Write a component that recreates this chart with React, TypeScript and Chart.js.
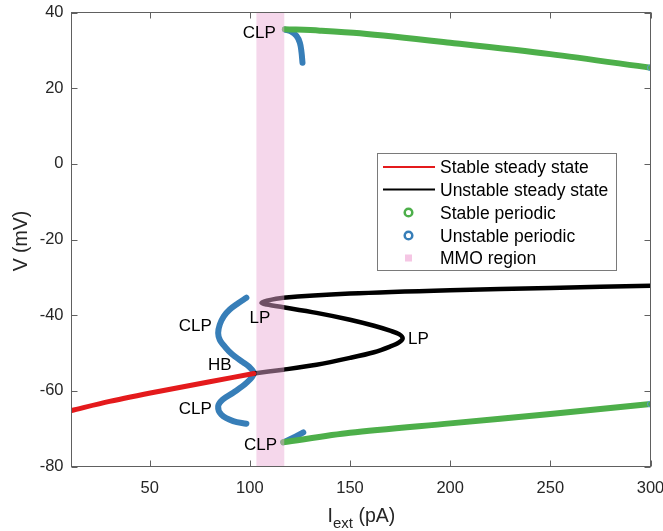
import React, { useEffect, useRef } from 'react';
import { Chart, registerables } from 'chart.js';

Chart.register(...registerables);

// ---- axes ----
const xTicks = [50, 100, 150, 200, 250, 300];
const yTicks = [-80, -60, -40, -20, 0, 20, 40];
const xMin = 11;
const xMax = 300;
const yMin = -80;
const yMax = 40;

// ---- data (I_ext in pA, V in mV) ----
const stableSteadyI = [11, 30, 55, 80, 102];
const stableSteadyV = [-65.2, -62.8, -60.1, -57.6, -55.4];

const unstableSteadyI = [102, 116.7, 133.3, 150, 162, 170, 174.5, 176.3, 174.5, 170, 162, 150, 133.3, 116.7, 108.5, 105.8, 108.5, 116.7, 150, 200, 250, 300];
const unstableSteadyV = [-55.4, -54.4, -53.1, -51.3, -49.8, -48.3, -47.2, -46.1, -45.0, -44.1, -42.8, -41.2, -39.4, -37.9, -37.2, -36.8, -36.2, -35.4, -34.3, -33.4, -32.8, -32.2];

const stablePeriodicTopI = [117.5, 135, 155, 200, 250, 300];
const stablePeriodicTopV = [35.6, 35.2, 34.5, 32.0, 29.0, 25.4];
const stablePeriodicBottomI = [116.7, 150, 200, 250, 300];
const stablePeriodicBottomV = [-73.6, -71.1, -68.6, -66.1, -63.5];

const unstablePeriodicLowI = [98.3, 94, 90, 87, 85, 84.2, 85, 86.7, 89.5, 92.5, 96.5, 99.6, 102, 98.3, 91.7, 86.5, 84.2, 85.8, 91.7, 98.3];
const unstablePeriodicLowV = [-35.4, -36.9, -38.5, -40.3, -42.5, -44.7, -46.5, -47.8, -49.5, -50.9, -52.4, -53.6, -55.4, -57.9, -60.5, -62.3, -64.1, -66.3, -68.0, -68.7];
const unstablePeriodicTopI = [117.5, 120.5, 123.3, 125, 125.8, 126.3];
const unstablePeriodicTopV = [35.5, 35.0, 33.8, 32.0, 29.5, 26.7];
const unstablePeriodicBottomI = [116.7, 121.7, 126.7];
const unstablePeriodicBottomV = [-73.6, -72.4, -71.0];

const mmoRegion = [103.3, 117.2];

const annotLabels = ['CLP', 'LP', 'LP', 'CLP', 'HB', 'CLP', 'CLP'];
const annotI = [104.75, 105, 184.2, 72.75, 85, 72.75, 105.4];
const annotV = [34.9, -40.5, -46.0, -42.6, -52.8, -64.4, -74.1];

const legendLabels = ['Stable steady state', 'Unstable steady state', 'Stable periodic', 'Unstable periodic', 'MMO region'];

// ---- colours ----
const RED = '#E41A1C';
const BLACK = '#000000';
const GREEN = '#4DAF4A';
const BLUE = '#377EB8';
const PINK = 'rgba(234,170,213,0.47)';
const PINK_SOLID = '#F5C6E4';
const FONT = '"Liberation Sans", Arial, Helvetica, sans-serif';

const pts = (xs: number[], ys: number[]) => xs.map((x, i) => ({ x, y: ys[i] }));

const overlayPlugin = {
  id: 'overlay',
  afterDatasetsDraw(chart: any) {
    const { ctx, chartArea: a, scales } = chart;
    const xs = scales.x;
    const ys = scales.y;
    ctx.save();
    // MMO region patch drawn on top of the curves
    const x0 = xs.getPixelForValue(mmoRegion[0]);
    const x1 = xs.getPixelForValue(mmoRegion[1]);
    ctx.fillStyle = PINK;
    ctx.fillRect(x0, a.top, x1 - x0, a.bottom - a.top);

    // annotations
    const fs = 17;
    ctx.font = `${fs}px ${FONT}`;
    ctx.fillStyle = '#000';
    ctx.textAlign = 'center';
    ctx.textBaseline = 'alphabetic';
    annotLabels.forEach((t, i) => {
      const px = xs.getPixelForValue(annotI[i]);
      const py = ys.getPixelForValue(annotV[i]);
      ctx.fillText(t, px, py + 0.358 * fs);
    });

    // axes box
    ctx.strokeStyle = '#606060';
    ctx.lineWidth = 1;
    ctx.strokeRect(a.left, a.top, a.right - a.left, a.bottom - a.top);
    // inward ticks
    const tl = 6;
    ctx.beginPath();
    xTicks.forEach((v) => {
      const px = Math.round(xs.getPixelForValue(v)) + 0.5;
      ctx.moveTo(px, a.bottom);
      ctx.lineTo(px, a.bottom - tl);
      ctx.moveTo(px, a.top);
      ctx.lineTo(px, a.top + tl);
    });
    yTicks.forEach((v) => {
      const py = Math.round(ys.getPixelForValue(v)) + 0.5;
      ctx.moveTo(a.left, py);
      ctx.lineTo(a.left + tl, py);
      ctx.moveTo(a.right, py);
      ctx.lineTo(a.right - tl, py);
    });
    ctx.stroke();

    // legend
    const lx = 377.5, ly = 153.5, lw = 239, lh = 117;
    ctx.fillStyle = '#fff';
    ctx.fillRect(lx, ly, lw, lh);
    ctx.strokeStyle = '#7a7a7a';
    ctx.strokeRect(lx, ly, lw, lh);
    const rows = [167, 189.5, 212.5, 235.5, 258];
    const lfs = 17.5;
    ctx.font = `${lfs}px ${FONT}`;
    ctx.textAlign = 'left';
    legendLabels.forEach((t, i) => {
      const cy = rows[i];
      if (i === 0 || i === 1) {
        ctx.strokeStyle = i === 0 ? RED : BLACK;
        ctx.lineWidth = 2;
        ctx.beginPath();
        ctx.moveTo(383, cy);
        ctx.lineTo(435, cy);
        ctx.stroke();
      } else if (i === 2 || i === 3) {
        ctx.strokeStyle = i === 2 ? GREEN : BLUE;
        ctx.lineWidth = 2.5;
        ctx.beginPath();
        ctx.arc(408.5, cy, 3.8, 0, Math.PI * 2);
        ctx.stroke();
      } else {
        ctx.fillStyle = PINK_SOLID;
        ctx.fillRect(405, cy - 3.5, 7, 7);
      }
      ctx.fillStyle = '#000';
      ctx.fillText(t, 440, cy + 0.358 * lfs);
    });

    // axis titles
    ctx.fillStyle = '#262626';
    const tfs = 19.5;
    ctx.font = `${tfs}px ${FONT}`;
    ctx.textAlign = 'left';
    ctx.fillText('I', 327.5, 521.5);
    ctx.font = `15px ${FONT}`;
    ctx.fillText('ext', 333, 528);
    ctx.font = `${tfs}px ${FONT}`;
    ctx.fillText(' (pA)', 353, 521.5);

    ctx.save();
    ctx.translate(20, 241);
    ctx.rotate(-Math.PI / 2);
    ctx.textAlign = 'center';
    ctx.fillText('V (mV)', 0, 0.358 * tfs);
    ctx.restore();

    ctx.restore();
  },
};

export default function App() {
  const ref = useRef<HTMLCanvasElement | null>(null);

  useEffect(() => {
    if (!ref.current) return;
    const lineDs = (label: string, data: any[], color: string, width: number, tension = 0.35, endMarker = false) => ({
      label,
      data,
      borderColor: color,
      backgroundColor: color,
      borderWidth: width,
      showLine: true,
      tension,
      borderCapStyle: 'round',
      borderJoinStyle: 'round',
      pointRadius: endMarker ? (c: any) => (c.dataIndex === data.length - 1 ? 3 : 0) : 0,
      pointBorderColor: '#5b9bd5',
      pointBackgroundColor: 'rgba(0,0,0,0)',
      pointBorderWidth: 1,
      fill: false,
    });

    const chart = new Chart(ref.current, {
      type: 'scatter',
      data: {
        datasets: [
          lineDs(legendLabels[0], pts(stableSteadyI, stableSteadyV), RED, 5, 0.3),
          lineDs(legendLabels[1], pts(unstableSteadyI, unstableSteadyV), BLACK, 4.5, 0.3),
          lineDs(legendLabels[2], pts(stablePeriodicTopI, stablePeriodicTopV), GREEN, 6, 0.3, true),
          lineDs(legendLabels[2], pts(stablePeriodicBottomI, stablePeriodicBottomV), GREEN, 6, 0.3, true),
          lineDs(legendLabels[3], pts(unstablePeriodicLowI, unstablePeriodicLowV), BLUE, 6, 0.35),
          lineDs(legendLabels[3], pts(unstablePeriodicTopI, unstablePeriodicTopV), BLUE, 6, 0.35),
          lineDs(legendLabels[3], pts(unstablePeriodicBottomI, unstablePeriodicBottomV), BLUE, 6, 0.3),
        ] as any,
      },
      options: {
        animation: false,
        responsive: false,
        maintainAspectRatio: false,
        layout: { padding: { left: 0, right: 12.5, top: 12.5, bottom: 0 } },
        plugins: { legend: { display: false }, tooltip: { enabled: false } },
        scales: {
          x: {
            type: 'linear',
            min: xMin,
            max: xMax,
            grid: { display: false, drawTicks: false },
            border: { display: false },
            afterBuildTicks: (s: any) => { s.ticks = xTicks.map((v) => ({ value: v })); },
            afterFit: (s: any) => { s.height = 64.5; s.paddingLeft = 0; s.paddingRight = 0; },
            ticks: { padding: 12, color: '#262626', font: { family: FONT, size: 16.5 }, maxRotation: 0 },
          },
          y: {
            type: 'linear',
            min: yMin,
            max: yMax,
            grid: { display: false, drawTicks: false },
            border: { display: false },
            afterBuildTicks: (s: any) => { s.ticks = yTicks.map((v) => ({ value: v })); },
            afterFit: (s: any) => { s.width = 71.5; s.paddingTop = 0; s.paddingBottom = 0; },
            ticks: { padding: 8, color: '#262626', font: { family: FONT, size: 16.5 } },
          },
        },
      } as any,
      plugins: [overlayPlugin],
    });
    return () => chart.destroy();
  }, []);

  return (
    <div style={{ position: 'fixed', left: 0, top: 0, width: 663, height: 531, background: '#fff' }}>
      <canvas ref={ref} width={663} height={531} style={{ width: 663, height: 531 }} />
    </div>
  );
}
